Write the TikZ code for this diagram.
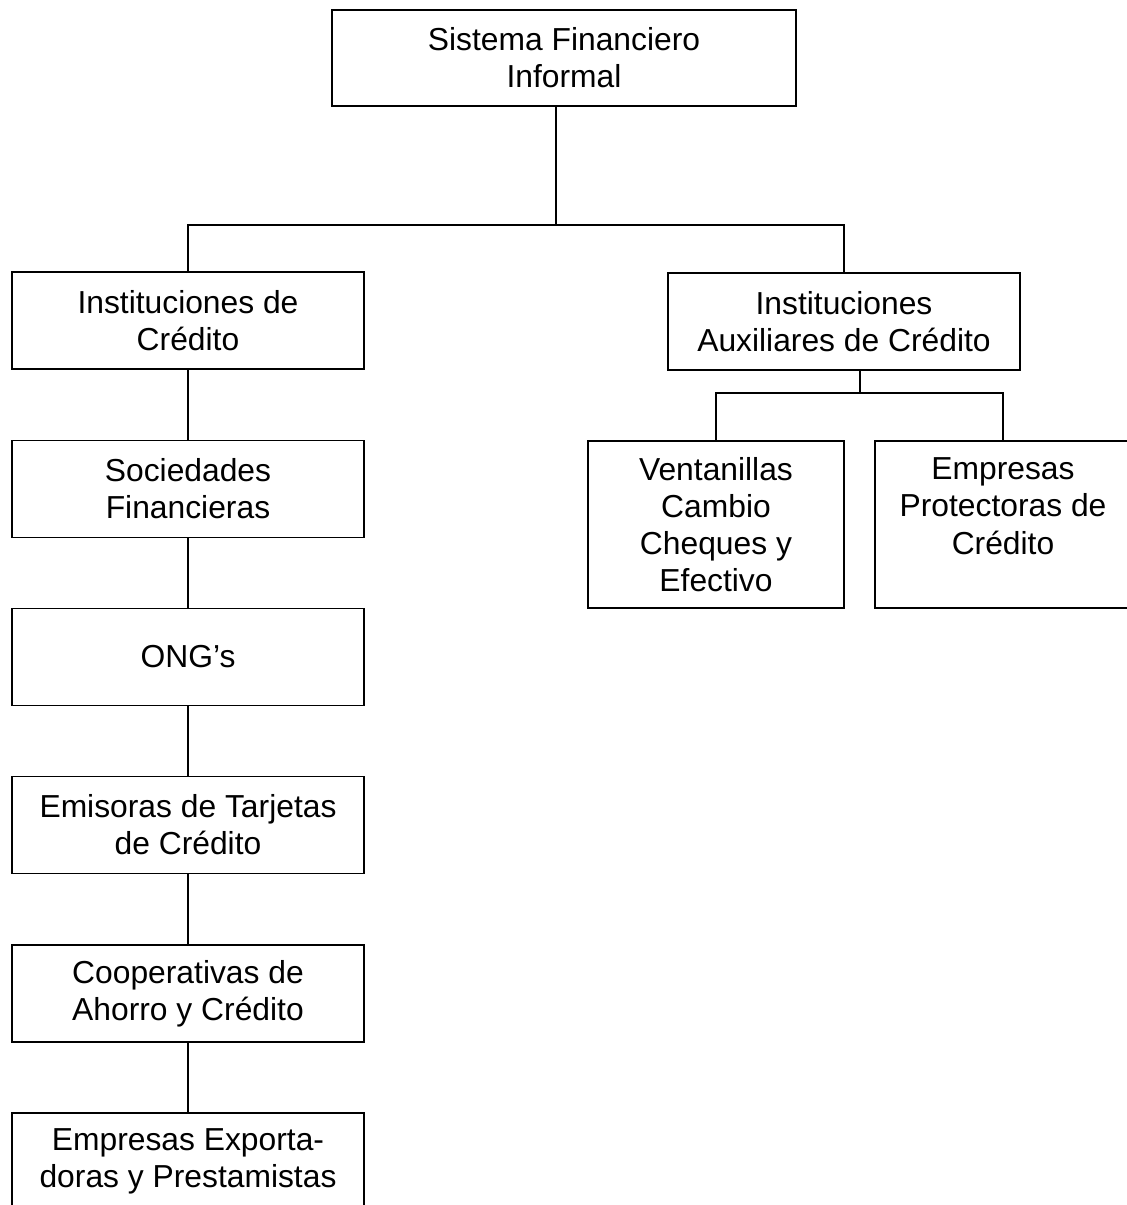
\documentclass[tikz,border=0pt]{standalone}
\usepackage{fontspec}
\setmainfont{Liberation Sans}
\begin{document}
\begin{tikzpicture}[x=1pt,y=-1pt,
  box/.style={draw=black, line width=1.8pt, rectangle, align=center, inner sep=0pt,
    font=\fontsize{31.8}{37.2}\selectfont},
  wide/.style={box, minimum width=352pt, minimum height=97pt},
  narrow/.style={box, minimum width=256pt, minimum height=167pt},
  link/.style={draw=black, line width=1.8pt}]
\useasboundingbox (0,0) rectangle (1127,1205);
\node[box, minimum width=464pt, minimum height=96pt] (top) at (564,58) {Sistema Financiero\\Informal};
\node[wide] (ic) at (188,320.5) {Instituciones de\\Crédito};
\node[wide] (sf) at (188,489) {Sociedades\\Financieras};
\node[wide] (ong) at (188,657) {ONG’s};
\node[wide] (em) at (188,825) {Emisoras de Tarjetas\\de Crédito};
\node[wide] (coop) at (188,993.5) {Cooperativas de\\Ahorro y Crédito};
\node[wide] (exp) at (188,1161.5) {Empresas Exporta-\\doras y Prestamistas};
\node[wide] (aux) at (844,321.5) {Instituciones\\Auxiliares de Crédito};
\node[narrow] (vent) at (716,524.5) {Ventanillas\\Cambio\\Cheques y\\Efectivo};
\node[narrow] (prot) at (1003,524.5) {Empresas\\Protectoras de\\Crédito\\\mbox{}};
\coordinate (j1) at (556,225);
\coordinate (j2) at (860,393);
\draw[link] (top.south -| j1) -- (j1);
\draw[link] (ic.north) |- (j1) -| (aux.north);
\draw[link] (ic) -- (sf);
\draw[link] (sf) -- (ong);
\draw[link] (ong) -- (em);
\draw[link] (em) -- (coop);
\draw[link] (coop) -- (exp);
\draw[link] (aux.south -| j2) -- (j2);
\draw[link] (vent.north) |- (j2) -| (prot.north);
\end{tikzpicture}
\end{document}
